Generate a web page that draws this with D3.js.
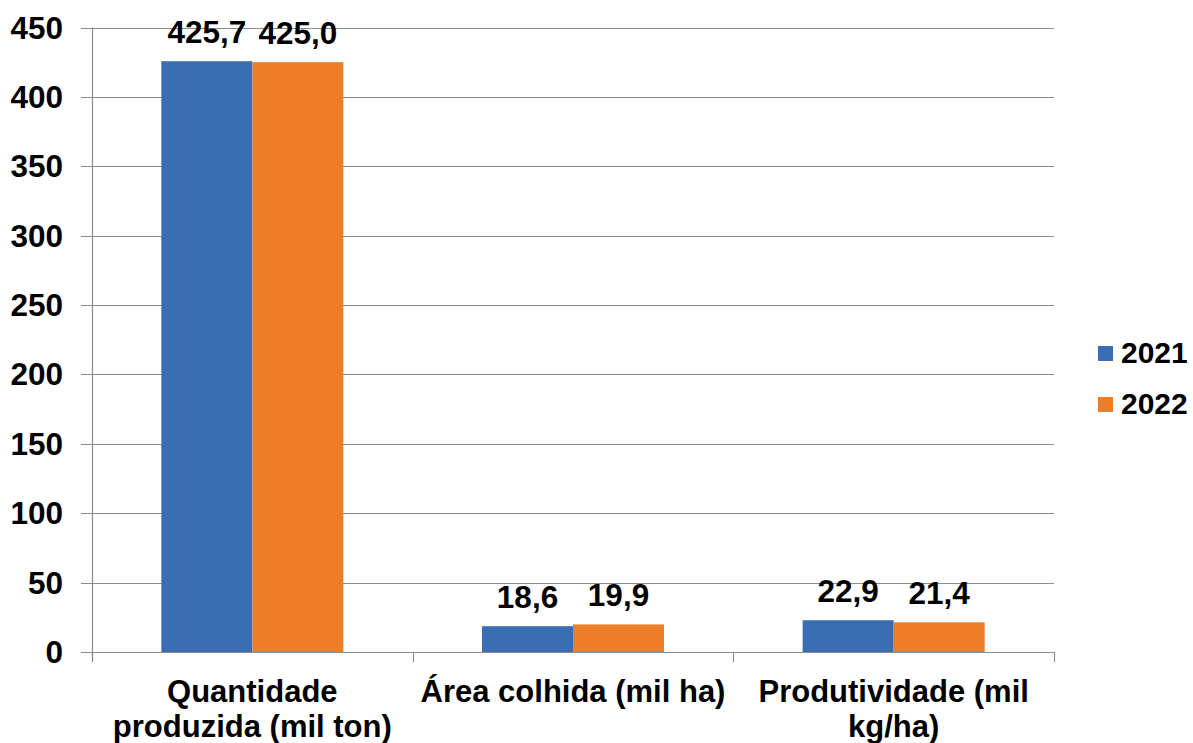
<!DOCTYPE html>
<html>
<head>
<meta charset="utf-8">
<script src="https://cdn.jsdelivr.net/npm/d3@7"></script>
<style>
  body { margin: 0; background: #fff; }
  text { font-family: "Liberation Sans", Arial, sans-serif; font-weight: bold; fill: #000; }
</style>
</head>
<body>
<div id="chart"></div>
<script>
var categories = ["Quantidade\nproduzida (mil ton)", "Área colhida (mil ha)", "Produtividade (mil\nkg/ha)"];
var years = ["2021", "2022"];
var values2021 = [425.7, 18.6, 22.9];
var values2022 = [425.0, 19.9, 21.4];
var yTicks = [0, 50, 100, 150, 200, 250, 300, 350, 400, 450];
var colors = ["#3b6db5", "#ed7d27"];

var W = 1193, H = 743;
var plotL = 92, plotR = 1054, plotT = 27.5, plotB = 652;

var svg = d3.select("#chart")
  .append("svg")
  .attr("width", W)
  .attr("height", H);

var y = d3.scaleLinear().domain([0, 450]).range([plotB, plotT]);
var x = d3.scaleBand().domain(categories).range([plotL, plotR]).padding(0);
var barW = 91;
var inner = d3.scaleBand().domain(years).range([0, barW * 2]);

// gridlines + y ticks
svg.selectAll(".grid").data(yTicks)
  .enter().append("line")
  .attr("x1", plotL - 11).attr("x2", plotR)
  .attr("y1", function(d) { return Math.round(y(d)) + 0.5; })
  .attr("y2", function(d) { return Math.round(y(d)) + 0.5; })
  .attr("stroke", "#8c8c8c")
  .attr("stroke-width", 1.2);

svg.selectAll(".ylab").data(yTicks)
  .enter().append("text")
  .attr("x", 63)
  .attr("y", function(d) { return y(d) + 11; })
  .attr("text-anchor", "end")
  .style("font-size", "31.5px")
  .text(function(d) { return d; });

// bars
var data = categories.map(function(c, i) {
  return [{ cat: c, year: years[0], v: values2021[i] }, { cat: c, year: years[1], v: values2022[i] }];
});

var groups = svg.selectAll(".cat").data(data)
  .enter().append("g")
  .attr("transform", function(d) {
    return "translate(" + (x(d[0].cat) + x.bandwidth() / 2 - barW) + ",0)";
  });

groups.selectAll("rect").data(function(d) { return d; })
  .enter().append("rect")
  .attr("x", function(d) { return inner(d.year); })
  .attr("width", barW)
  .attr("y", function(d) { return y(d.v); })
  .attr("height", function(d) { return plotB - y(d.v); })
  .attr("fill", function(d, i) { return colors[i]; });

groups.selectAll(".val").data(function(d) { return d; })
  .enter().append("text")
  .attr("x", function(d) { return inner(d.year) + barW / 2; })
  .attr("y", function(d) { return y(d.v) - 18; })
  .attr("text-anchor", "middle")
  .style("font-size", "31.5px")
  .text(function(d) { return d.v.toFixed(1).replace(".", ","); });

// axis lines
svg.append("line")
  .attr("x1", plotL + 0.5).attr("x2", plotL + 0.5)
  .attr("y1", plotT).attr("y2", plotB + 10)
  .attr("stroke", "#8c8c8c").attr("stroke-width", 1.2);

var xTicks = categories.map(function(c) { return x(c); }).concat([plotR]);
svg.selectAll(".xt").data(xTicks)
  .enter().append("line")
  .attr("x1", function(d) { return Math.round(d) + 0.5; })
  .attr("x2", function(d) { return Math.round(d) + 0.5; })
  .attr("y1", plotB).attr("y2", plotB + 10)
  .attr("stroke", "#8c8c8c").attr("stroke-width", 1.2);

// category labels
svg.selectAll(".xlab").data(categories)
  .enter().append("text")
  .attr("text-anchor", "middle")
  .style("font-size", "31px")
  .each(function(d) {
    var t = d3.select(this);
    var cx = x(d) + x.bandwidth() / 2;
    d.split("\n").forEach(function(line, i) {
      t.append("tspan").attr("x", cx).attr("y", 702 + i * 35).text(line);
    });
  });

// legend
var leg = svg.selectAll(".leg").data(years)
  .enter().append("g")
  .attr("transform", function(d, i) { return "translate(1098," + (346 + i * 51) + ")"; });

leg.append("rect")
  .attr("width", 15).attr("height", 15)
  .attr("fill", function(d, i) { return colors[i]; });

leg.append("text")
  .attr("x", 23).attr("y", 17)
  .style("font-size", "30px")
  .text(function(d) { return d; });
</script>
</body>
</html>
